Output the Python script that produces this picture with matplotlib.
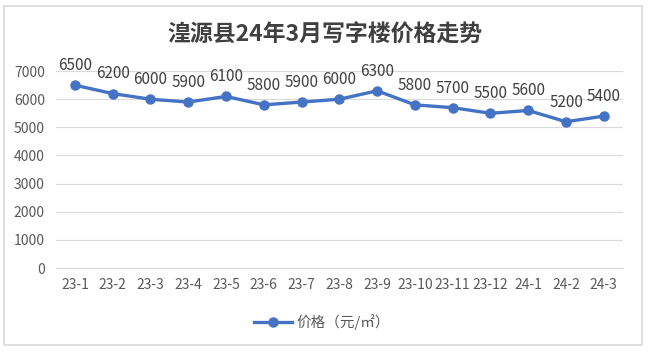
import matplotlib
matplotlib.use("Agg")
import matplotlib.pyplot as plt
from matplotlib.patches import Rectangle

plt.rcParams['font.family'] = ['Noto Sans CJK SC', 'DejaVu Sans']

categories = ["23-1", "23-2", "23-3", "23-4", "23-5", "23-6", "23-7", "23-8",
              "23-9", "23-10", "23-11", "23-12", "24-1", "24-2", "24-3"]
prices = [6500, 6200, 6000, 5900, 6100, 5800, 5900, 6000,
          6300, 5800, 5700, 5500, 5600, 5200, 5400]
yticks = [0, 1000, 2000, 3000, 4000, 5000, 6000, 7000]
title = "湟源县24年3月写字楼价格走势"
series_name = "价格（元/㎡）"

fig = plt.figure(figsize=(6.5, 3.52), dpi=100)
ax = fig.add_axes([0.0862, 0.2386, 0.8718, 0.5594])

x = list(range(len(categories)))
line, = ax.plot(x, prices, color="#4472C4", linewidth=2.4, marker="o",
                markersize=6.5, label=series_name, clip_on=False)

for xi, v in zip(x, prices):
    ax.annotate(f"{v}", (xi, v), xytext=(0, 8), textcoords="offset points",
                ha="center", va="bottom", fontsize=11, color="#404040")

ax.set_xlim(-0.5, len(categories) - 0.5)
ax.set_ylim(0, 7000)
ax.set_yticks(yticks)
ax.set_xticks(x)
ax.set_xticklabels(categories)
ax.tick_params(axis="both", length=0, labelsize=10, colors="#595959")
ax.tick_params(axis="x", pad=7)
ax.tick_params(axis="y", pad=8)
ax.grid(axis="y", color="#D9D9D9", linewidth=0.8)
ax.set_axisbelow(True)
for s in ["top", "right", "left"]:
    ax.spines[s].set_visible(False)
ax.spines["bottom"].set_color("#D9D9D9")
ax.spines["bottom"].set_linewidth(0.8)

fig.text(0.5, 0.9, title, ha="center", va="center", fontsize=16.5,
         fontweight="bold", color="#404040")

fig.legend(handles=[line], loc="center", bbox_to_anchor=(0.495, 0.085),
           frameon=False, fontsize=10.5, labelcolor="#595959",
           handlelength=2.6, handletextpad=0.3, markerscale=1.0)

fig.patches.append(Rectangle((0.006, 0.02), 0.9815, 0.963, transform=fig.transFigure,
                             fill=False, edgecolor="#D9D9D9", linewidth=1.2))

fig.savefig("out.png", dpi=100)
